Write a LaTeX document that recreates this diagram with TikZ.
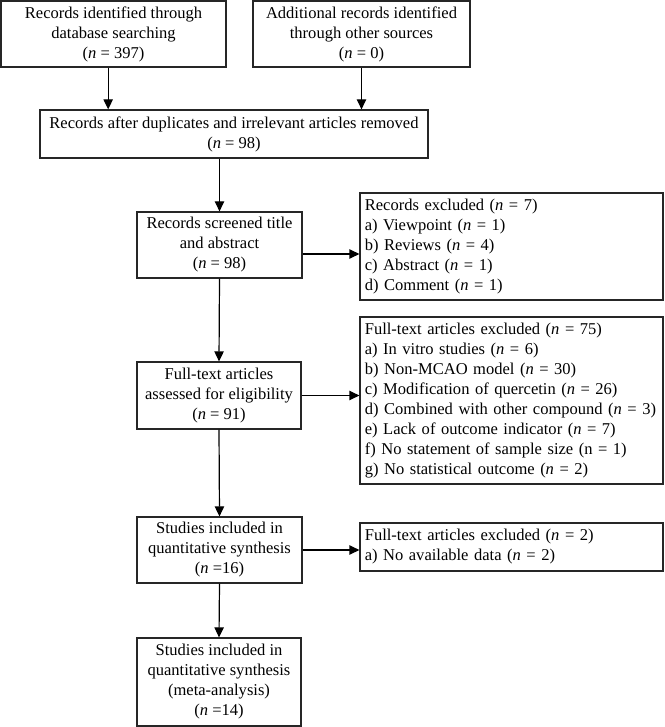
\documentclass[tikz,border=0pt]{standalone}
\usepackage{fontspec}
\setmainfont{Liberation Serif}
\usetikzlibrary{arrows.meta}
\newcommand{\nn}{\textit{n}}
\begin{document}
\begin{tikzpicture}[x=0.75pt,y=-0.75pt,
 box/.style={draw=black!85,line width=0.9pt,inner sep=0pt,align=center,font=\fontsize{12.4}{15}\selectfont},
 lbox/.style={box,align=left,text width=220pt},
 arr/.style={-{Triangle[length=7.5pt,width=7pt]},line width=0.9pt,black}]
\useasboundingbox (0,0) rectangle (664,727);
\node[box,minimum width=168.75pt,minimum height=49.5pt] (b1) at (113.5,34)
  {Records identified through\\database searching\\(\nn{} = 397)};
\node[box,minimum width=162.75pt,minimum height=49.5pt] (b2) at (361.5,34)
  {Additional records identified\\through other sources\\(\nn{} = 0)};
\node[box,minimum width=291pt,minimum height=36pt] (b3) at (234,134)
  {Records after duplicates and irrelevant articles removed\\(\nn{} = 98)};
\node[box,minimum width=123.75pt,minimum height=49.5pt] (b4) at (219.5,245)
  {Records screened title\\and abstract\\(\nn{} = 98)};
\node[lbox,minimum width=227.25pt,minimum height=80.25pt] (b5) at (511.5,246.5)
  {Records excluded (\nn{} = 7)\\a) Viewpoint (\nn{} = 1)\\b) Reviews (\nn{} = 4)\\c) Abstract (\nn{} = 1)\\d) Comment (\nn{} = 1)};
\node[box,minimum width=123pt,minimum height=50.25pt] (b6) at (219,395.5)
  {Full-text articles\\assessed for eligibility\\(\nn{} = 91)};
\node[lbox,minimum width=227.25pt,minimum height=125.25pt] (b7) at (511.5,400.5)
  {Full-text articles excluded (\nn{} = 75)\\a) In vitro studies (\nn{} = 6)\\b) Non-MCAO model (\nn{} = 30)\\c) Modification of quercetin (\nn{} = 26)\\d) Combined with other compound (\nn{} = 3)\\e) Lack of outcome indicator (\nn{} = 7)\\f) No statement of sample size (n = 1)\\g) No statistical outcome (\nn{} = 2)};
\node[box,minimum width=123.75pt,minimum height=49.5pt] (b8) at (219.5,550)
  {Studies included in\\quantitative synthesis\\(\nn{} =16)};
\node[lbox,minimum width=227.25pt,minimum height=36pt] (b9) at (511.5,547)
  {Full-text articles excluded (\nn{} = 2)\\a) No available data (\nn{} = 2)};
\node[box,minimum width=123pt,minimum height=66pt] (b10) at (219,682)
  {Studies included in\\quantitative synthesis\\(meta-analysis)\\(\nn{} =14)};
\draw[arr] ([xshift=-4pt]b1.south) -- ([xshift=-4pt]b1.south |- b3.north);
\draw[arr] (b2.south) -- (b2.south |- b3.north);
\draw[arr] (b3.south -| b4.north) -- (b4.north);
\draw[arr] ([yshift=-6.75pt]b4.east) -- ([yshift=-6.75pt]b4.east -| b5.west);
\draw[arr] (b4.south) -- (b6.north);
\draw[arr] (b6.east) -- (b6.east -| b7.west);
\draw[arr] (b6.south) -- (b8.north);
\draw[arr] (b8.east) -- (b8.east -| b9.west);
\draw[arr] (b8.south) -- (b10.north);
\end{tikzpicture}
\end{document}
